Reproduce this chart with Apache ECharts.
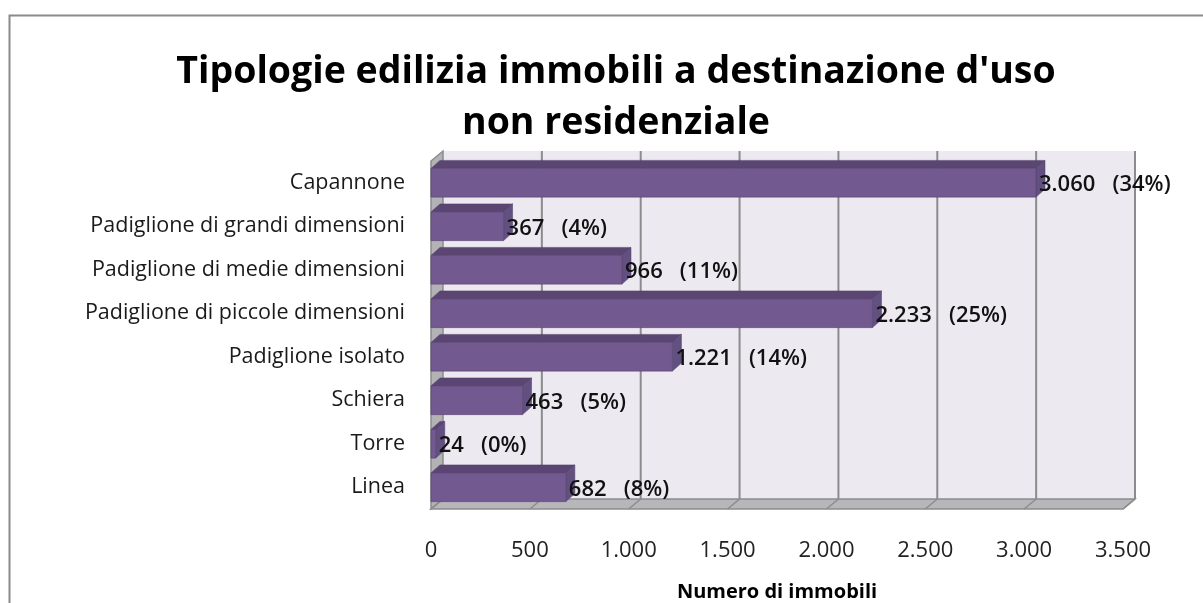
<!DOCTYPE html>
<html>
<head>
<meta charset="utf-8">
<script src="https://cdn.jsdelivr.net/npm/echarts@6/dist/echarts.min.js"></script>
<style>
  html, body { margin: 0; padding: 0; background: #fff; }
  #chart { width: 1203px; height: 603px; }
</style>
</head>
<body>
<div id="chart"></div>
<script>
// data
const categories = [
  'Capannone',
  'Padiglione di grandi dimensioni',
  'Padiglione di medie dimensioni',
  'Padiglione di piccole dimensioni',
  'Padiglione isolato',
  'Schiera',
  'Torre',
  'Linea'
];
const counts = [3060, 367, 966, 2233, 1221, 463, 24, 682];
const percents = [34, 4, 11, 25, 14, 5, 0, 8];
const xTicks = [0, 500, 1000, 1500, 2000, 2500, 3000, 3500];

const FONT = "'Open Sans', 'Noto Sans', sans-serif";
const DX = 12, DY = -10;      // depth of the 3d walls
const BDX = 9, BDY = -8;      // depth of the bars

function fmt(v) {
  return String(v).replace(/\B(?=(\d{3})+(?!\d))/g, '.');
}

const chart = echarts.init(document.getElementById('chart'));

// walls, floor and gridlines of the fake 3d box
function renderWalls(params, api) {
  const cs = params.coordSys;
  const x0 = cs.x, y0 = cs.y, x1 = cs.x + cs.width, y1 = cs.y + cs.height;
  const children = [];
  // back wall
  children.push({
    type: 'polygon',
    shape: { points: [[x0 + DX, y0 + DY], [x1 + DX, y0 + DY], [x1 + DX, y1 + DY], [x0 + DX, y1 + DY]] },
    style: { fill: '#ECE9F1' }
  });
  // left wall
  children.push({
    type: 'polygon',
    shape: { points: [[x0, y0], [x0 + DX, y0 + DY], [x0 + DX, y1 + DY], [x0, y1]] },
    style: { fill: '#B3B3B6', stroke: '#8c8c8c', lineWidth: 1.5 }
  });
  // floor
  children.push({
    type: 'polygon',
    shape: { points: [[x0, y1], [x0 + DX, y1 + DY], [x1 + DX, y1 + DY], [x1, y1]] },
    style: { fill: '#B7B6BA', stroke: '#8c8c8c', lineWidth: 1.5 }
  });
  xTicks.forEach(function (t) {
    const p = api.coord([t, 0]);
    const x = p[0];
    if (t > 0) {
      children.push({
        type: 'line',
        shape: { x1: x + DX, y1: y0 + DY, x2: x + DX, y2: y1 + DY },
        style: { stroke: '#8c8c8c', lineWidth: 2 }
      });
    }
    children.push({
      type: 'line',
      shape: { x1: x, y1: y1, x2: x + DX, y2: y1 + DY },
      style: { stroke: '#8c8c8c', lineWidth: 1.5 }
    });
  });
  return { type: 'group', children: children };
}

function renderBar(params, api) {
  const v = api.value(0);
  const idx = api.value(1);
  const start = api.coord([0, idx]);
  const end = api.coord([v, idx]);
  const h = api.size([0, 1])[1] * 0.66;
  const xs = start[0], xe = end[0];
  const yt = end[1] - h / 2, yb = end[1] + h / 2;
  return {
    type: 'group',
    children: [
      {
        type: 'polygon',
        shape: { points: [[xs, yt], [xs + BDX, yt + BDY], [xe + BDX, yt + BDY], [xe, yt]] },
        style: { fill: '#5A4573', stroke: '#4f3d66', lineWidth: 0.5 }
      },
      {
        type: 'polygon',
        shape: { points: [[xe, yt], [xe + BDX, yt + BDY], [xe + BDX, yb + BDY], [xe, yb]] },
        style: { fill: '#625080', stroke: '#4f3d66', lineWidth: 0.5 }
      },
      {
        type: 'rect',
        shape: { x: xs, y: yt, width: xe - xs, height: yb - yt },
        style: { fill: '#72598F', stroke: '#5f4a7a', lineWidth: 0.8 }
      },
      {
        type: 'text',
        x: xe + 3,
        y: end[1] + 2,
        style: {
          text: fmt(v) + '   (' + percents[idx] + '%)',
          font: '600 22px ' + FONT,
          fill: '#111',
          textAlign: 'left',
          textVerticalAlign: 'middle'
        }
      }
    ]
  };
}

chart.setOption({
  animation: false,
  title: {
    text: "Tipologie edilizia immobili a destinazione d'uso\nnon residenziale",
    left: 611,
    textAlign: 'center',
    top: 42,
    textStyle: {
      fontFamily: FONT,
      fontWeight: 'bold',
      fontSize: 37.5,
      lineHeight: 51,
      color: '#000'
    }
  },
  graphic: [{
    type: 'rect',
    shape: { x: 9.5, y: 15.5, width: 1300, height: 700 },
    style: { fill: 'none', stroke: '#8a8a8a', lineWidth: 2 },
    silent: true
  }],
  grid: {
    left: 431,
    right: 80,
    top: 161,
    bottom: 94,
    outerBoundsMode: 'none'
  },
  xAxis: {
    type: 'value',
    min: 0,
    max: 3500,
    interval: 500,
    name: 'Numero di immobili',
    nameLocation: 'middle',
    nameGap: 73,
    nameTextStyle: { fontFamily: FONT, fontWeight: 'bold', fontSize: 20, color: '#000' },
    axisLine: { show: false },
    axisTick: { show: false },
    splitLine: { show: false },
    axisLabel: {
      margin: 31,
      fontFamily: FONT,
      fontSize: 22,
      color: '#222',
      formatter: function (v) { return fmt(v); }
    }
  },
  yAxis: {
    type: 'category',
    inverse: true,
    data: categories,
    axisLine: { show: false },
    axisTick: { show: false },
    splitLine: { show: false },
    axisLabel: {
      margin: 26,
      padding: [10, 0, 0, 0],
      fontFamily: FONT,
      fontSize: 21.5,
      color: '#1a1a1a'
    }
  },
  series: [
    {
      type: 'custom',
      name: 'walls',
      silent: true,
      renderItem: renderWalls,
      data: [[0, 0]],
      encode: { x: 0, y: 1 },
      z: 1
    },
    {
      type: 'custom',
      name: 'Numero di immobili',
      renderItem: renderBar,
      data: counts.map(function (v, i) { return [v, i]; }),
      encode: { x: 0, y: 1 },
      z: 2
    }
  ]
});
</script>
</body>
</html>
